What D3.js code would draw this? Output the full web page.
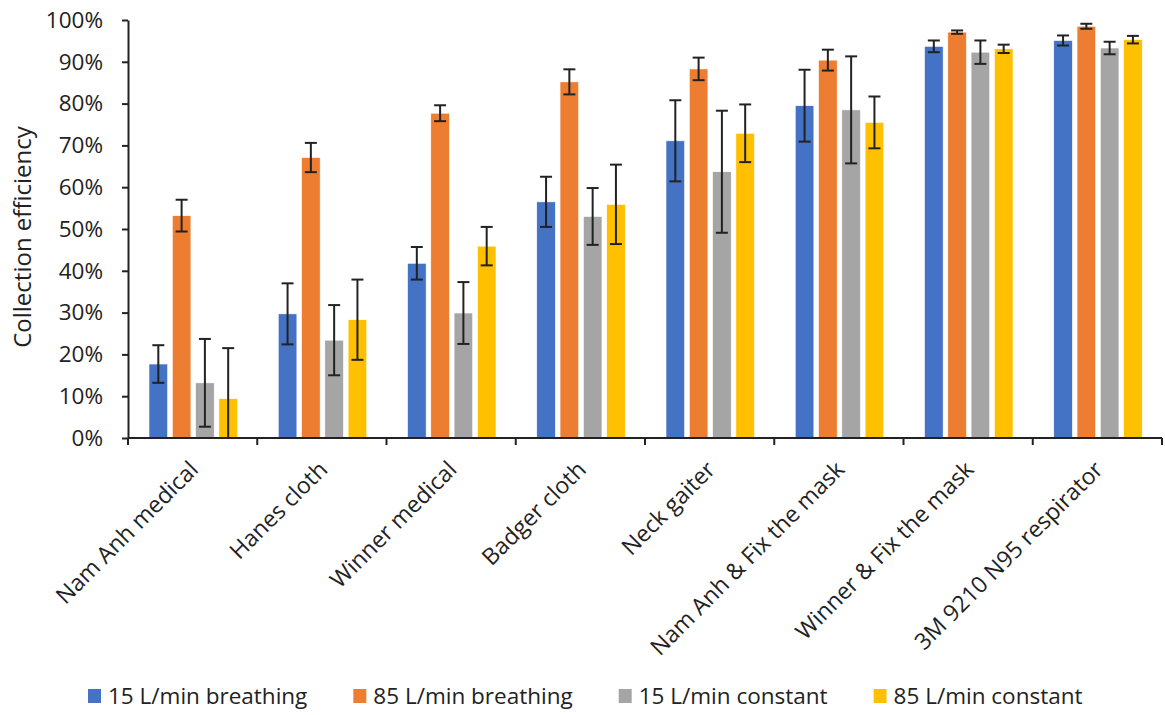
<!DOCTYPE html>
<html>
<head>
<meta charset="utf-8">
<script src="https://cdn.jsdelivr.net/npm/d3@7"></script>
<style>
  body { margin: 0; background: #fff; }
  svg text { font-family: "Open Sans", "Noto Sans", sans-serif; fill: #222; }
</style>
</head>
<body>
<script>
const categories = ["Nam Anh medical", "Hanes cloth", "Winner medical", "Badger cloth", "Neck gaiter", "Nam Anh & Fix the mask", "Winner & Fix the mask", "3M 9210 N95 respirator"]
const seriesNames = ["15 L/min breathing", "85 L/min breathing", "15 L/min constant", "85 L/min constant"]
const seriesColors = ["#4472C4", "#ED7D31", "#A5A5A5", "#FFC000"]

const breathing15 = [17.7, 29.7, 41.8, 56.5, 71.1, 79.5, 93.7, 95.1]
const breathing15Err = [4.5, 7.3, 3.9, 6.0, 9.7, 8.6, 1.4, 1.2]
const breathing85 = [53.2, 67.1, 77.7, 85.2, 88.3, 90.4, 97.1, 98.5]
const breathing85Err = [3.8, 3.5, 1.9, 3.0, 2.7, 2.5, 0.4, 0.6]
const constant15 = [13.2, 23.4, 29.9, 53.0, 63.7, 78.5, 92.3, 93.3]
const constant15Err = [10.5, 8.4, 7.4, 6.8, 14.6, 12.8, 2.8, 1.5]
const constant85 = [9.4, 28.3, 45.9, 55.9, 72.9, 75.5, 93.1, 95.3]
const constant85Err = [12.1, 9.6, 4.6, 9.5, 6.9, 6.2, 1.0, 0.9]

const yTicks = [0, 10, 20, 30, 40, 50, 60, 70, 80, 90, 100]

const values = [breathing15, breathing85, constant15, constant85]
const errors = [breathing15Err, breathing85Err, constant15Err, constant85Err]

let w = 1165, h = 715
let padLeft = 128, padRight = 1162, padTop = 20, padBottom = 438

let svg = d3.select("body").append("svg")
    .attr("width", w)
    .attr("height", h)

let x0 = d3.scaleBand().domain(categories).range([padLeft, padRight])
let x1 = d3.scaleBand().domain(d3.range(4)).range([21, 109.5]).paddingInner(0.2)
let y = d3.scaleLinear().domain([0, 100]).range([padBottom, padTop])

// flatten to rows
let rows = []
categories.forEach((c, i) => {
    values.forEach((s, j) => rows.push({cat: c, s: j, v: s[i], e: errors[j][i]}))
})

svg.selectAll("rect.bar")
    .data(rows)
    .enter()
    .append("rect")
    .attr("class", "bar")
    .attr("x", d => x0(d.cat) + x1(d.s))
    .attr("y", d => y(d.v))
    .attr("width", x1.bandwidth())
    .attr("height", d => y(0) - y(d.v))
    .attr("fill", d => seriesColors[d.s])
    .attr("stroke", "#fff")
    .attr("stroke-width", 0.6)

// error bars
let eb = svg.append("g").attr("stroke", "#222").attr("stroke-width", 2)
rows.forEach(d => {
    let cx = x0(d.cat) + x1(d.s) + x1.bandwidth() / 2
    let hi = d.v + d.e
    let lo = Math.max(0, d.v - d.e)
    eb.append("line").attr("x1", cx).attr("x2", cx).attr("y1", y(hi)).attr("y2", y(lo))
    eb.append("line").attr("x1", cx - 6).attr("x2", cx + 6).attr("y1", y(hi)).attr("y2", y(hi))
    if (d.v - d.e > 0)
        eb.append("line").attr("x1", cx - 6).attr("x2", cx + 6).attr("y1", y(lo)).attr("y2", y(lo))
})

// y axis
let yAxis = d3.axisLeft(y).tickValues(yTicks).tickFormat(d => d + "%").tickSize(6).tickSizeOuter(0)
let gy = svg.append("g")
    .attr("transform", `translate(${padLeft}, 0)`)
    .call(yAxis)
gy.select(".domain").attr("stroke", "#222").attr("stroke-width", 2)
gy.selectAll(".tick line").attr("stroke", "#222").attr("stroke-width", 2)
gy.selectAll(".tick text")
    .attr("x", -25)
    .style("font-size", "22.5px")
    .style("font-family", "'Open Sans', sans-serif")
    .attr("fill", "#222")

// x axis, ticks on band edges
svg.append("line")
    .attr("x1", padLeft).attr("x2", padRight)
    .attr("y1", padBottom).attr("y2", padBottom)
    .attr("stroke", "#222").attr("stroke-width", 2)
let edges = categories.map(c => x0(c)).concat([padRight])
svg.selectAll("line.xtick")
    .data(edges)
    .enter()
    .append("line")
    .attr("class", "xtick")
    .attr("x1", d => d).attr("x2", d => d)
    .attr("y1", padBottom).attr("y2", padBottom + 7)
    .attr("stroke", "#222").attr("stroke-width", 2)

svg.selectAll("text.xlabel")
    .data(categories)
    .enter()
    .append("text")
    .attr("class", "xlabel")
    .attr("transform", d => `translate(${x0(d) + x0.bandwidth() / 2 + 7}, ${padBottom + 33}) rotate(-45)`)
    .attr("text-anchor", "end")
    .style("font-size", "23px")
    .text(d => d)

// y title
svg.append("text")
    .attr("transform", `translate(31, ${(padTop + padBottom) / 2 + 8}) rotate(-90)`)
    .attr("text-anchor", "middle")
    .style("font-size", "24px")
    .text("Collection efficiency")

// legend
let lx = 88
seriesNames.forEach((n, i) => {
    let g = svg.append("g").attr("transform", `translate(${lx}, 696)`)
    g.append("rect").attr("x", 0).attr("y", -7).attr("width", 13).attr("height", 14).attr("fill", seriesColors[i])
    let t = g.append("text").attr("x", 20).attr("y", 8).style("font-size", "22.5px").text(n)
    lx += 20 + t.node().getComputedTextLength() + 46
})
</script>
</body>
</html>
